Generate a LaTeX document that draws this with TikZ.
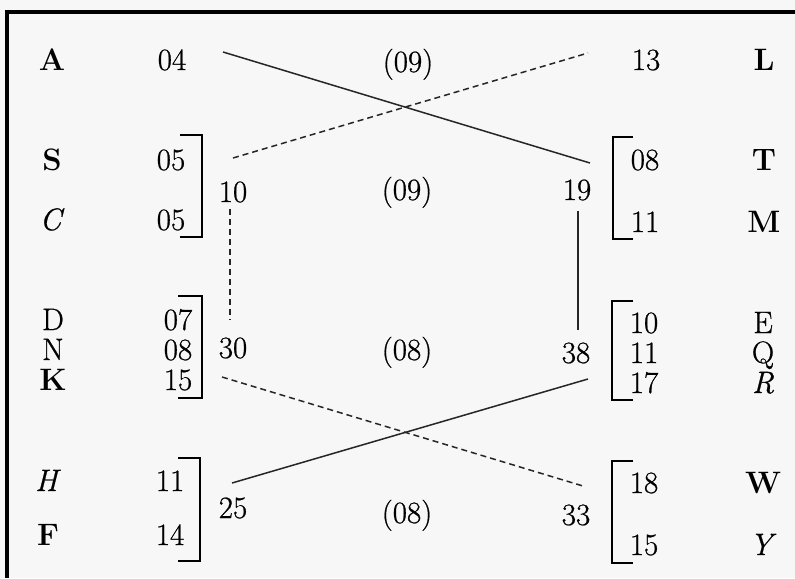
\documentclass[tikz,border=0pt]{standalone}
\usepackage{fontspec}
\setmainfont{Latin Modern Roman}[UprightFeatures={FakeBold=0.7}, ItalicFeatures={FakeBold=0.7}]
\begin{document}
\begin{tikzpicture}[x=0.5pt,y=-0.5pt,
  txt/.style={anchor=base, inner sep=0pt, font=\fontsize{15.5}{18}\selectfont},
  conn/.style={line width=0.75pt, black!85},
  dconn/.style={conn, dash pattern=on 3pt off 2pt},
  brk/.style={line width=0.65pt},
  frame/.style={line width=1.6pt}]
\useasboundingbox (0,0) rectangle (795,578);
\fill[black!3] (0,0) rectangle (795,578);
\draw[frame] (7,578) -- (7,12) -- (795,12);

% row 1
\node[txt] (A) at (52,70) {\textbf{A}};
\node[txt] (n04) at (172,70) {04};
\node[txt] (p09a) at (408,72) {(09)};
\node[txt] (n13) at (646,70) {13};
\node[txt] (L) at (764,70) {\textbf{L}};

% S, C group
\node[txt] (S) at (52,170) {\textbf{S}};
\node[txt] (n05a) at (171,170) {05};
\node[txt] (C) at (52,230) {\textit{C}};
\node[txt] (n05b) at (171,230) {05};
\draw[brk] (180,135) -- (202,135) -- (202,237) -- (180,237);
\node[txt] (n10) at (233,202) {10};
\node[txt] (p09b) at (407,200) {(09)};
\node[txt] (n19) at (577,200) {19};
\draw[brk] (633,137) -- (613,137) -- (613,239) -- (633,239);
\node[txt] (n08a) at (645,170) {08};
\node[txt] (T) at (764,170) {\textbf{T}};
\node[txt] (n11a) at (645,232) {11};
\node[txt] (M) at (764,232) {\textbf{M}};

% D, N, K group
\node[txt] (D) at (53,330) {D};
\node[txt] (N) at (53,360) {N};
\node[txt] (K) at (53,390) {\textbf{K}};
\node[txt] (n07) at (178,330) {07};
\node[txt] (n08b) at (178,360) {08};
\node[txt] (n15a) at (178,390) {15};
\draw[brk] (178,296) -- (202,296) -- (202,398) -- (178,398);
\node[txt] (n30) at (233,358) {30};
\node[txt] (p08a) at (407,360) {(08)};
\node[txt] (n38) at (576,363) {38};
\draw[brk] (633,301) -- (612,301) -- (612,400) -- (633,400);
\node[txt] (n10b) at (644,333) {10};
\node[txt] (n11b) at (644,363) {11};
\node[txt] (n17) at (644,393) {17};
\node[txt] (E) at (763,333) {E};
\node[txt] (Q) at (763,363) {Q};
\node[txt] (R) at (763,393) {\textit{R}};

% H, F group
\node[txt] (H) at (48,491) {\textit{H}};
\node[txt] (n11c) at (170,491) {11};
\node[txt] (F) at (48,545) {\textbf{F}};
\node[txt] (n14) at (170,545) {14};
\draw[brk] (178,458) -- (200,458) -- (200,561) -- (178,561);
\node[txt] (n25) at (233,518) {25};
\node[txt] (p08b) at (407,523) {(08)};
\node[txt] (n33) at (576,525) {33};
\draw[brk] (633,461) -- (612,461) -- (612,563) -- (633,563);
\node[txt] (n18) at (644,493) {18};
\node[txt] (W) at (763,493) {\textbf{W}};
\node[txt] (n15b) at (644,555) {15};
\node[txt] (Y) at (763,555) {\textit{Y}};

% connector end points
\coordinate (a1) at (223,52);  \coordinate (a2) at (590,163);
\coordinate (b1) at (233,158); \coordinate (b2) at (588,53);
\coordinate (c1) at (230,209); \coordinate (c2) at (230,320);
\coordinate (d1) at (578,211); \coordinate (d2) at (578,330);
\coordinate (e1) at (222,377); \coordinate (e2) at (583,486);
\coordinate (f1) at (232,483); \coordinate (f2) at (588,379);

\draw[conn] (a1) -- (a2);
\draw[dconn] (b1) -- (b2);
\draw[dconn] (c1) -- (c2);
\draw[conn] (d1) -- (d2);
\draw[dconn] (e1) -- (e2);
\draw[conn] (f1) -- (f2);
\end{tikzpicture}
\end{document}
